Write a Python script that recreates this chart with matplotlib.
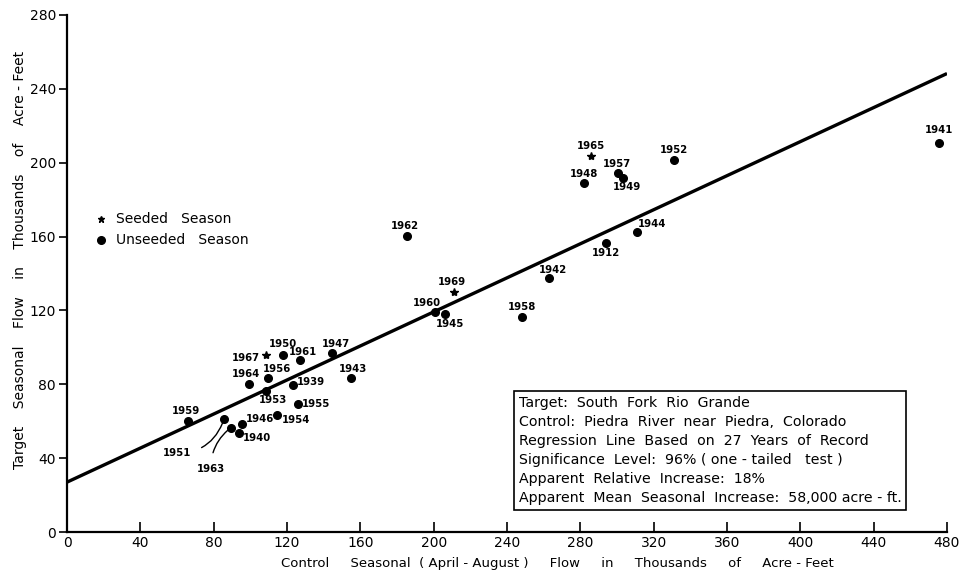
import matplotlib
matplotlib.use("Agg")
import matplotlib.pyplot as plt

# Season years and flows (thousands of acre-feet)
years = ["1941", "1952", "1965", "1957", "1949", "1948", "1944", "1912",
         "1962", "1969", "1960", "1945", "1958", "1942",
         "1967", "1950", "1961", "1947", "1943", "1964", "1956", "1939",
         "1953", "1955", "1954", "1946", "1940", "1963", "1951", "1959"]
control_flow = [475.7, 331.0, 286.0, 300.5, 303.2, 281.9, 310.8, 294.1,
                185.3, 210.9, 200.5, 206.0, 248.1, 262.7,
                108.4, 117.9, 127.0, 144.6, 154.8, 99.4, 109.5, 123.3,
                108.6, 126.1, 114.8, 95.2, 93.7, 89.4, 85.6, 66.1]
target_flow = [210.6, 201.4, 203.7, 194.2, 191.5, 189.1, 162.3, 156.3,
               160.3, 129.8, 119.3, 117.9, 116.6, 137.4,
               95.8, 95.8, 93.1, 96.7, 83.5, 80.1, 83.2, 79.6,
               76.5, 69.3, 63.3, 58.5, 53.4, 56.5, 61.0, 60.3]
seeded_years = ["1965", "1969", "1967"]

# Regression line end points
line_x = [0, 480]
line_y = [27, 248.3]

x_ticks = [0, 40, 80, 120, 160, 200, 240, 280, 320, 360, 400, 440, 480]
y_ticks = [0, 40, 80, 120, 160, 200, 240, 280]

x_title = ("Control     Seasonal  ( April - August )     Flow     in     "
           "Thousands     of     Acre - Feet")
y_title = "Target    Seasonal    Flow    in    Thousands    of    Acre - Feet"
legend_labels = ["Seeded   Season", "Unseeded   Season"]

box_lines = [
    "Target:  South  Fork  Rio  Grande",
    "Control:  Piedra  River  near  Piedra,  Colorado",
    "Regression  Line  Based  on  27  Years  of  Record",
    "Significance  Level:  96% ( one - tailed   test )",
    "Apparent  Relative  Increase:  18%",
    "Apparent  Mean  Seasonal  Increase:  58,000 acre - ft.",
]

# Label placement: (dx, dy) in pixels, horizontal alignment
label_pos = {
    "1941": (0, 13, "center"), "1952": (0, 10, "center"),
    "1965": (0, 10, "center"), "1957": (-1, 9, "center"),
    "1949": (4, -9, "center"), "1948": (0, 9, "center"),
    "1944": (15, 8, "center"), "1912": (0, -10, "center"),
    "1962": (-2, 10, "center"), "1969": (-2, 10, "center"),
    "1960": (-8, 9, "center"), "1945": (5, -10, "center"),
    "1958": (0, 10, "center"), "1942": (4, 8, "center"),
    "1967": (-6, -3, "right"), "1950": (0, 11, "center"),
    "1961": (3, 8, "center"), "1947": (4, 9, "center"),
    "1943": (2, 9, "center"), "1964": (-3, 10, "center"),
    "1956": (9, 9, "center"), "1939": (4, 3, "left"),
    "1953": (7, -9, "center"), "1955": (4, 0, "left"),
    "1954": (4, -5, "left"), "1946": (4, 5, "left"),
    "1940": (4, -5, "left"), "1959": (-2, 10, "center"),
}
# Labels joined to their point by a curved leader
leader_pos = {"1951": (-47, -34, 0.35), "1963": (-20, -41, -0.25)}

plt.rcParams["font.family"] = ["DejaVu Sans"]

fig = plt.figure(figsize=(9.67, 5.70), dpi=100)
ax = fig.add_axes([67 / 967, 38 / 570, 880 / 967, 517 / 570])

ax.plot(line_x, line_y, color="black", lw=2.4, solid_capstyle="butt", zorder=2)

for yr, xv, yv in zip(years, control_flow, target_flow):
    if yr in seeded_years:
        ax.plot(xv, yv, marker="*", ms=6, color="black", zorder=3)
    else:
        ax.plot(xv, yv, marker="o", ms=5.5, color="black", zorder=3)
    if yr in label_pos:
        dx, dy, ha = label_pos[yr]
        ax.annotate(yr, (xv, yv), xytext=(dx, dy), textcoords="offset pixels",
                    ha=ha, va="center", fontsize=7.3, fontweight="bold")
    elif yr in leader_pos:
        dx, dy, rad = leader_pos[yr]
        ax.annotate(yr, (xv, yv), xytext=(dx, dy), textcoords="offset pixels",
                    ha="center", va="center", fontsize=7.3, fontweight="bold",
                    arrowprops=dict(arrowstyle="-", color="black", lw=1.0,
                                    shrinkA=6, shrinkB=3,
                                    connectionstyle=f"arc3,rad={rad}"))

ax.set_xlim(0, 480)
ax.set_ylim(0, 280)
ax.set_xticks(x_ticks)
ax.set_yticks(y_ticks)
ax.tick_params(axis="x", direction="in", length=7, width=1.2, labelsize=10, pad=3)
ax.tick_params(axis="y", direction="out", length=6, width=1.2, labelsize=10, pad=2)
for side in ("top", "right"):
    ax.spines[side].set_visible(False)
for side in ("left", "bottom"):
    ax.spines[side].set_linewidth(1.6)

fig.text(557 / 967, 1 - 563 / 570, x_title, fontsize=9.5, ha="center", va="center")
fig.text(20 / 967, 1 - 260 / 570, y_title, fontsize=10, ha="center", va="center",
         rotation=90)

# Legend drawn as marker + text rows
ax.plot(18.5, 169.5, marker="*", ms=5, color="black", clip_on=False)
ax.plot(18.5, 158.2, marker="o", ms=5.5, color="black", clip_on=False)
ax.text(26.5, 169.5, legend_labels[0], fontsize=10, va="center")
ax.text(26.5, 158.2, legend_labels[1], fontsize=10, va="center")

box_text = "\n".join(box_lines)
ax.text(246.3, 14.6, box_text, fontsize=10.2, va="bottom", ha="left", linespacing=1.45,
        bbox=dict(boxstyle="square,pad=0.35", facecolor="white", edgecolor="black", lw=1.2))

fig.savefig("out.png", dpi=100)
